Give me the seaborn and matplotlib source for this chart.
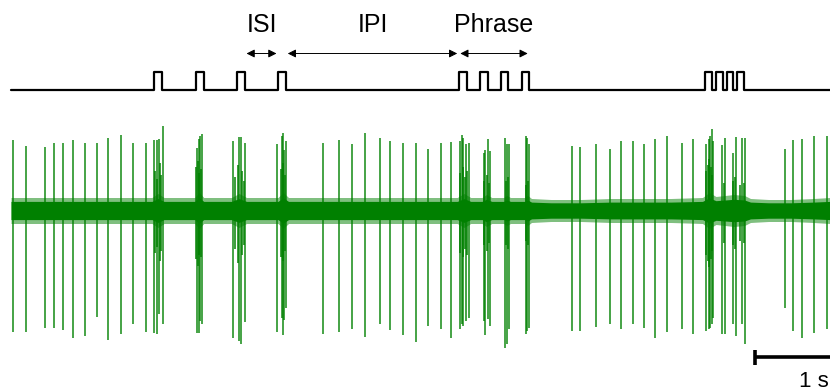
import numpy as np
import pandas as pd
import matplotlib
matplotlib.use("Agg")
import matplotlib.pyplot as plt
import seaborn as sns

# ── data (time in s, amplitude in a.u.) ──────────────────────────────────
spike_t = [0.02, 0.20, 0.45, 0.57, 0.69, 0.83, 0.99, 1.14, 1.29, 1.46, 1.62, 1.80,
           1.91, 1.94, 1.97, 2.02, 2.48, 2.50, 2.52, 2.54, 2.96, 3.04, 3.06, 3.12,
           3.54, 3.61, 3.62, 3.64, 3.67, 4.16, 4.37, 4.54, 4.72, 4.92, 5.05, 5.23,
           5.40, 5.56, 5.73, 5.86, 5.98, 6.01, 6.03, 6.07, 6.10, 6.30, 6.32, 6.36,
           6.39, 6.59, 6.61, 6.64, 6.87, 6.88, 6.91, 7.48, 7.59, 7.80, 7.99, 8.13,
           8.29, 8.44, 8.58, 8.75, 8.95, 9.09, 9.26, 9.30, 9.32, 9.34, 9.36, 9.48,
           9.52, 9.63, 9.67, 9.74, 9.79, 10.32, 10.43, 10.55, 10.71, 10.88]
spike_peak = [71, 65, 64, 68, 68, 71, 68, 68, 73, 76, 68, 68,
              71, 71, 72, 85, 63, 72, 75, 77, 70, 74, 74, 68,
              67, 75, 78, 61, 70, 68, 71, 67, 78, 73, 70, 68,
              68, 62, 68, 69, 70, 76, 73, 67, 68, 58, 61, 72,
              60, 73, 67, 67, 75, 73, 67, 65, 64, 67, 62, 70,
              70, 67, 72, 75, 68, 72, 67, 72, 75, 82, 70, 66,
              73, 58, 74, 73, 73, 62, 71, 72, 75, 75]
spike_trough = [-121, -121, -117, -117, -119, -127, -125, -106, -129, -123, -113, -121,
                -122, -123, -103, -113, -122, -122, -110, -113, -127, -130, -133, -111,
                -121, -107, -124, -109, -97, -123, -121, -118, -126, -113, -119, -124,
                -131, -115, -118, -127, -118, -113, -115, -110, -107, -110, -124, -108,
                -115, -137, -133, -118, -123, -120, -117, -120, -120, -116, -113, -118,
                -113, -117, -127, -121, -118, -123, -120, -118, -117, -113, -107, -123,
                -123, -113, -125, -113, -133, -97, -120, -127, -122, -118]

# smaller oscillations inside the bursts
burst_t = [1.92, 1.95, 1.99, 2.00, 2.47, 2.49, 2.51, 2.53, 2.98, 3.02, 3.08, 3.10,
           3.60, 3.63, 3.65, 5.99, 6.02, 6.05, 6.08, 6.31, 6.34, 6.37, 6.60, 6.63,
           6.86, 6.89, 9.27, 9.29, 9.31, 9.33, 9.35, 9.50, 9.62, 9.65, 9.72, 9.77]
burst_up = [40, 32, 48, 36, 44, 50, 38, 42, 34, 46, 40, 30,
            42, 48, 36, 38, 44, 34, 40, 30, 36, 28, 30, 34,
            26, 30, 40, 46, 52, 44, 36, 28, 30, 34, 26, 28]
burst_dn = [-42, -36, -50, -40, -48, -55, -44, -46, -38, -52, -44, -34,
            -46, -50, -40, -42, -46, -38, -44, -34, -40, -32, -34, -38,
            -30, -34, -44, -50, -56, -48, -40, -32, -34, -38, -30, -32]

# background noise envelope (half-width)
noise_t = [0.0, 0.5, 1.0, 1.5, 1.88, 1.96, 2.04, 2.45, 2.51, 2.57, 2.94, 3.04, 3.14,
           3.56, 3.63, 3.70, 4.0, 4.5, 5.0, 5.5, 5.95, 6.04, 6.13, 6.28, 6.34, 6.41,
           6.57, 6.61, 6.66, 6.85, 6.89, 6.94, 7.2, 7.6, 8.0, 8.4, 8.8, 9.22, 9.31,
           9.40, 9.52, 9.64, 9.78, 9.86, 10.1, 10.4, 10.7, 10.92]
noise_hw = [13, 13, 13, 13, 13, 17, 13, 13, 18, 13, 13, 17, 13,
            13, 18, 13, 13, 13, 13, 13, 13, 17, 13, 13, 16, 13,
            13, 15, 13, 13, 15, 12, 11, 11, 12, 12, 12, 13, 18,
            14, 15, 16, 15, 12, 11, 11, 12, 13]

# pulse detector output (on/off times, s)
pulse_on = [1.91, 2.47, 3.01, 3.56, 5.97, 6.25, 6.53, 6.81, 9.25, 9.40, 9.54, 9.68]
pulse_off = [2.01, 2.57, 3.12, 3.67, 6.08, 6.36, 6.63, 6.91, 9.35, 9.49, 9.63, 9.77]
t_end = 10.92

GREEN = "#008000"
BASE_Y = 121
PULSE_H = 18

sns.set_theme(style="white")
plt.rcParams["font.family"] = ["Liberation Sans", "DejaVu Sans"]

fig = plt.figure(figsize=(8.3, 3.92), dpi=100)
ax = fig.add_axes([0, 0, 1, 1])
ax.set_xlim(-11 / 75, 819 / 75)
ax.set_ylim(-181.5, 210.5)
ax.axis("off")

# ── recording ─────────────────────────────────────────────────────────────
nt = np.array(noise_t)
nh = np.array(noise_hw, dtype=float)
ax.fill_between(nt, -nh, nh, color=GREEN, alpha=0.5, lw=0)
ax.fill_between(nt, -0.7 * nh, 0.7 * nh, color=GREEN, lw=0)
ax.vlines(burst_t, burst_dn, burst_up, color=GREEN, lw=1.2, alpha=0.9)
ax.vlines(spike_t, spike_trough, spike_peak, color=GREEN, lw=1.2, alpha=0.85)

# ── pulse trace ───────────────────────────────────────────────────────────
xs, ys = [0.0], [BASE_Y]
for a, b in zip(pulse_on, pulse_off):
    xs += [a, a, b, b]
    ys += [BASE_Y, BASE_Y + PULSE_H, BASE_Y + PULSE_H, BASE_Y]
xs.append(t_end)
ys.append(BASE_Y)
trace = pd.DataFrame({"t": xs, "y": ys})
sns.lineplot(data=trace, x="t", y="y", ax=ax, color="black", lw=1.6,
             sort=False, estimator=None)

# ── annotations ───────────────────────────────────────────────────────────
arr_y = 157
spans = [("ISI", pulse_off[2], pulse_on[3]),
         ("IPI", pulse_off[3], pulse_on[4]),
         ("Phrase", pulse_on[4], pulse_off[7])]
for lbl, a, b in spans:
    ax.annotate("", xy=(a + 0.02, arr_y), xytext=(b - 0.02, arr_y),
                arrowprops=dict(arrowstyle="<|-|>", color="black", lw=0.7,
                                mutation_scale=12, shrinkA=0, shrinkB=0))
    ax.text((a + b) / 2, 185, lbl, ha="center", va="center", fontsize=18,
            color="black")

# ── scale bar (1 s) ───────────────────────────────────────────────────────
ax.plot([t_end - 1, t_end], [-146.5, -146.5], color="black", lw=2.6,
        solid_capstyle="butt")
ax.plot([t_end - 1, t_end - 1], [-139, -154], color="black", lw=2.6,
        solid_capstyle="butt")
ax.text(t_end - 0.02, -171, "1 s", ha="right", va="center", fontsize=16,
        color="black")

fig.savefig("out.png", dpi=100)
